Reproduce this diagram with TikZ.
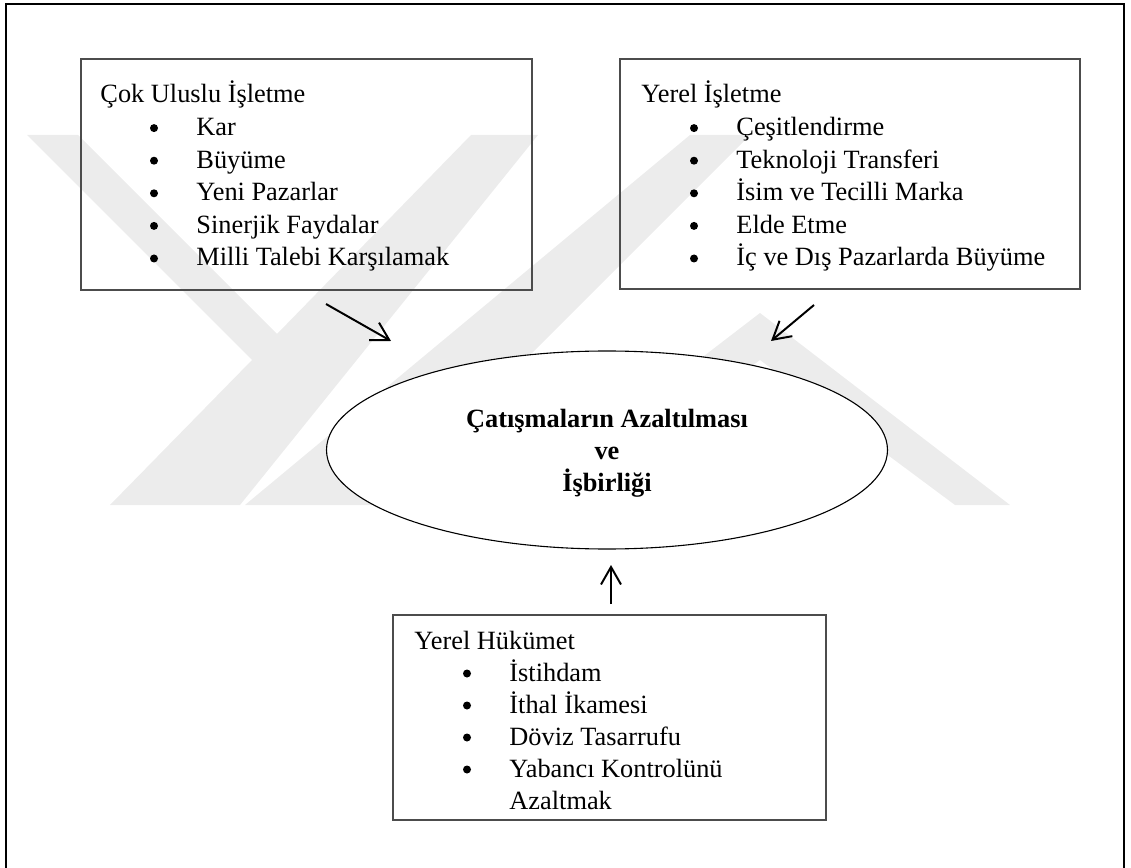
\documentclass[tikz,border=0pt]{standalone}
\usepackage{fontspec}
\setmainfont{Liberation Serif}
\usetikzlibrary{arrows.meta}
\usetikzlibrary{shapes.geometric}

\definecolor{filigran}{gray}{0.925}
\newcommand{\px}{0.016cm}
\tikzset{
  kutu/.style={draw=black!70, line width=0.6pt, rectangle, inner sep=0pt},
  yazi/.style={anchor=base west, inner sep=0pt, font=\fontsize{12}{14.8}\selectfont},
  nokta/.style={circle, fill=black, inner sep=0pt, minimum size=8*\px},
  ortayazi/.style={anchor=base, inner sep=0pt, font=\bfseries\fontsize{12}{14.3}\selectfont},
  ok/.style={line width=0.9pt, -{Straight Barb[length=2.8mm,width=3.2mm]}}
}

\begin{document}
\begin{tikzpicture}[x=\px, y=-\px]
\useasboundingbox (0,0) rectangle (1131,868);
% filigran
\fill[filigran] (27,135) -- (78,135) -- (277,334) -- (471,135) -- (538,135) -- (240,505) -- (110,505) -- (252,360) -- cycle;
\fill[filigran] (245,505) -- (380,505) -- (750,135) -- (690,135) -- cycle;
\fill[filigran] (510,505) -- (760,313) -- (1010,505) -- (955,505) -- (760,360) -- (565,505) -- cycle;
% cerceve
\draw[line width=0.9pt] (6,868) -- (6,4) -- (1124,4) -- (1124,868);

% kutular
\node[kutu, minimum width=451*\px, minimum height=231*\px] (cok) at (306.5,174.5) {};
\node[kutu, minimum width=460*\px, minimum height=230*\px] (yerel) at (850,174) {};
\node[kutu, minimum width=433*\px, minimum height=205*\px] (hukumet) at (609.5,717.5) {};

\node[yazi] (cokbaslik) at (100,103) {Çok Uluslu İşletme};
\foreach \metin [count=\i] in {Kar,Büyüme,Yeni Pazarlar,Sinerjik Faydalar,Milli Talebi Karşılamak} {
  \node[nokta] (cokn\i) at (154,{95.5+32.6*\i}) {};
  \node[yazi] (cokm\i) at (196,{103+32.6*\i}) {\metin};
}

\node[yazi] (yerelbaslik) at (641,103) {Yerel İşletme};
\foreach \metin [count=\i] in {Çeşitlendirme,Teknoloji Transferi,İsim ve Tecilli Marka,Elde Etme,İç ve Dış Pazarlarda Büyüme} {
  \node[nokta] (yereln\i) at (694,{95.5+32.6*\i}) {};
  \node[yazi] (yerelm\i) at (736,{103+32.6*\i}) {\metin};
}

\node[yazi] (hukbaslik) at (414,649) {Yerel Hükümet};
\foreach \metin [count=\i] in {İstihdam,İthal İkamesi,Döviz Tasarrufu,Yabancı Kontrolünü} {
  \node[nokta] (hukn\i) at (467,{641.5+32*\i}) {};
  \node[yazi] (hukm\i) at (509,{649+32*\i}) {\metin};
}
\node[yazi] (hukm5) at (509,809) {Azaltmak};

% orta
\node[ellipse, draw, fill=white, line width=0.5pt, minimum width=561*\px, minimum height=198*\px,
      inner sep=0pt] (orta) at (607,450) {};
\node[ortayazi] (orta1) at (607,428) {Çatışmaların Azaltılması};
\node[ortayazi] (orta2) at (607,460) {ve};
\node[ortayazi] (orta3) at (607,491) {İşbirliği};

% oklar
\coordinate (a1) at (326,304);
\coordinate (a2) at (391,341);
\coordinate (b1) at (814,305);
\coordinate (b2) at (771,341);
\coordinate (c1) at (611,604);
\coordinate (c2) at (611,565);
\draw[ok] (a1) -- (a2);
\draw[ok] (b1) -- (b2);
\draw[ok] (c1) -- (c2);
\end{tikzpicture}
\end{document}
